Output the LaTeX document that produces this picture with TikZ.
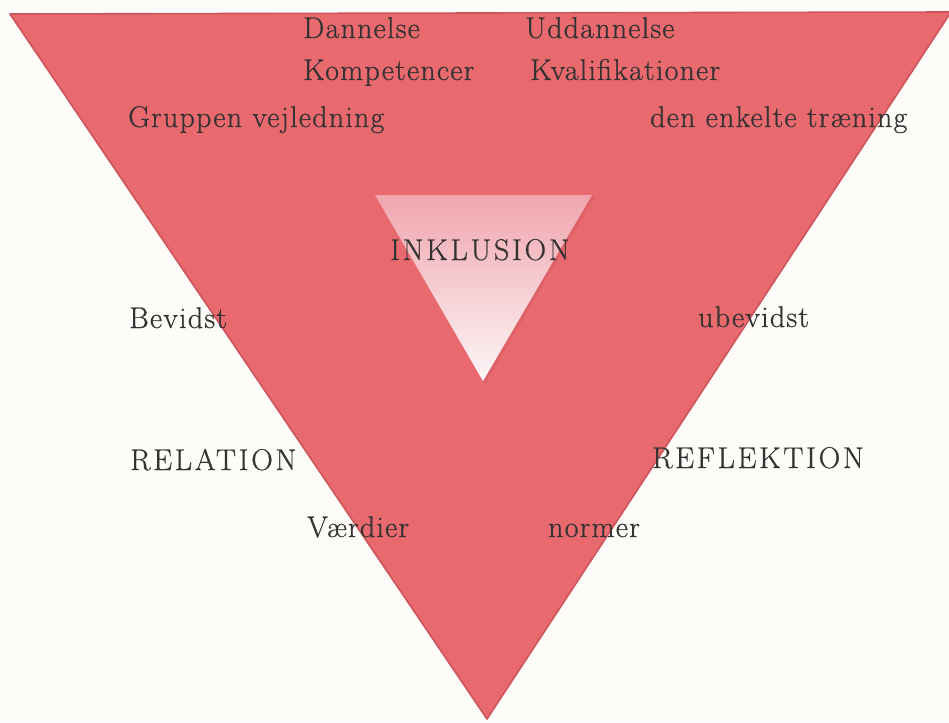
\documentclass[tikz,border=0pt]{standalone}
\usepackage{fontspec}
\setmainfont{Latin Modern Roman}
\definecolor{bgcol}{RGB}{253,252,248}
\definecolor{trifill}{RGB}{233,106,110}
\definecolor{triedge}{RGB}{205,84,92}
\definecolor{innertop}{RGB}{240,165,174}
\definecolor{innerbot}{RGB}{252,246,247}
\definecolor{txt}{RGB}{52,50,50}
\tikzset{
  lbl/.style={anchor=base west, inner sep=0pt, text=txt,
    font={\fontsize{30}{32}\selectfont\addfontfeatures{LetterSpace=4,FakeBold=0.6}}},
  caplbl/.style={lbl, font={\fontsize{30}{32}\selectfont\addfontfeatures{LetterSpace=9,FakeBold=0.6}}}
}
\begin{document}
\begin{tikzpicture}[x=1pt,y=-1pt]
\fill[bgcol] (0,0) rectangle (949,722);
\useasboundingbox (0,0) rectangle (949,722);
% big triangle
\coordinate (TL) at (10,14);
\coordinate (TR) at (951,12);
\coordinate (BA) at (487,719);
\filldraw[fill=trifill, draw=triedge, line width=1.6pt, line join=round] (TL) -- (TR) -- (BA) -- cycle;
% inner triangle
\coordinate (iTL) at (375,195);
\coordinate (iTR) at (592,195);
\coordinate (iBA) at (483,381);
\fill[triedge!60!trifill, opacity=0.6] ([xshift=3pt,yshift=-2pt]iTR) -- ([xshift=2pt,yshift=-3pt]iBA) -- (iBA) -- (iTR) -- cycle;
\shade[top color=innertop, bottom color=innerbot] (iTL) -- (iTR) -- (iBA) -- cycle;
% labels
\node[lbl] (dan) at (303,38) {Dannelse};
\node[lbl] (udd) at (525,38) {Uddannelse};
\node[lbl] (kom) at (303,80) {Kompetencer};
\node[lbl] (kva) at (530,80) {Kvalifikationer};
\node[lbl] (gru) at (128,127) {Gruppen vejledning};
\node[lbl] (den) at (650,127) {den enkelte træning};
\node[caplbl] (ink) at (390,260) {INKLUSION};
\node[lbl] (bev) at (129,328) {Bevidst};
\node[lbl] (ubev) at (698,327) {ubevidst};
\node[caplbl] (rel) at (130,470) {RELATION};
\node[caplbl] (ref) at (652,468) {REFLEKTION};
\node[lbl] (vae) at (307,537) {Værdier};
\node[lbl] (nor) at (548,537) {normer};
\end{tikzpicture}
\end{document}
